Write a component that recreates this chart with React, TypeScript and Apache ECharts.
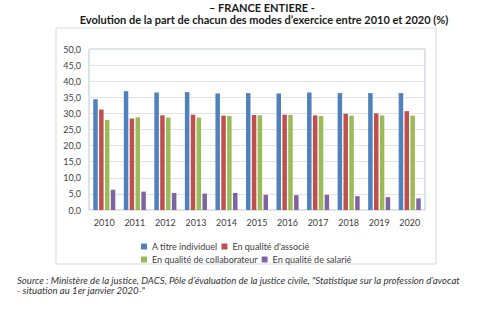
import React, { useEffect, useRef } from "react";
import * as echarts from "echarts";

const years = ["2010", "2011", "2012", "2013", "2014", "2015", "2016", "2017", "2018", "2019", "2020"];
const individuel = [34.4, 36.9, 36.5, 36.6, 36.2, 36.3, 36.2, 36.5, 36.3, 36.3, 36.3];
const associe = [31.2, 28.4, 29.4, 29.6, 29.3, 29.5, 29.6, 29.4, 29.9, 30.0, 30.7];
const collaborateur = [28.0, 28.8, 28.7, 28.7, 29.2, 29.4, 29.5, 29.2, 29.3, 29.4, 29.3];
const salarie = [6.3, 5.7, 5.3, 5.1, 5.3, 4.7, 4.6, 4.7, 4.3, 4.0, 3.6];
const seriesNames = ["A titre individuel", "En qualité d'associé", "En qualité de collaborateur", "En qualité de salarié"];
const colors = ["#4F81BD", "#C0504D", "#9BBB59", "#8064A2"];

const titleLine1 = "– FRANCE ENTIERE -";
const titleLine2 = "Evolution de la part de chacun des modes d’exercice entre 2010 et 2020 (%)";
const source1 = "Source : Ministère de la justice, DACS, Pôle d’évaluation de la justice civile, \"Statistique sur la profession d’avocat";
const source2 = "- situation au 1er janvier 2020-\"";

export default function App() {
  const ref = useRef<HTMLDivElement>(null);
  useEffect(() => {
    if (!ref.current) return;
    const chart = echarts.init(ref.current, null, { renderer: "svg" });
    const font = "Lato, 'Liberation Sans', sans-serif";
    const values = [individuel, associe, collaborateur, salarie];
    chart.setOption({
      animation: false,
      backgroundColor: "#ffffff",
      textStyle: { fontFamily: font },
      graphic: [
        {
          type: "rect",
          shape: { x: 56, y: 28, width: 380, height: 236 },
          style: { fill: "none", stroke: "#D9D9D9", lineWidth: 1 },
          z: -1,
        },
        {
          type: "text",
          x: 262,
          y: 7,
          style: { text: titleLine1, font: `bold 11px ${font}`, fill: "#1a1a1a", align: "center", verticalAlign: "middle" },
        },
        {
          type: "text",
          x: 264,
          y: 19,
          style: { text: titleLine2, font: `bold 11px ${font}`, fill: "#1a1a1a", align: "center", verticalAlign: "middle" },
        },
        {
          type: "text",
          x: 17,
          y: 275,
          style: {
            text: source1 + "\n" + source2,
            font: `italic 9.6px ${font}`,
            lineHeight: 10,
            fill: "#333333",
            align: "left",
            verticalAlign: "top",
          },
        },
      ],
      legend: {
        data: seriesNames,
        left: 136,
        top: 237,
        width: 232,
        itemWidth: 6,
        itemHeight: 6,
        itemGap: 4,
        icon: "rect",
        textStyle: { fontSize: 9, color: "#404040", width: 101, fontFamily: font },
      },
      grid: {
        left: 89,
        right: 75,
        top: 49,
        bottom: 111,
        show: true,
        borderColor: "#B4C6DC",
        borderWidth: 1,
      },
      xAxis: {
        type: "category",
        data: years,
        axisLine: { show: false },
        axisTick: { show: false },
        axisLabel: { fontSize: 9, color: "#404040", margin: 8 },
      },
      yAxis: {
        type: "value",
        min: 0,
        max: 50,
        interval: 5,
        axisLine: { show: false },
        axisTick: { show: false },
        axisLabel: {
          fontSize: 9,
          color: "#404040",
          margin: 8,
          formatter: (v: number) => v.toFixed(1).replace(".", ","),
        },
        splitLine: { lineStyle: { color: "#E3E3E3", width: 1 } },
      },
      series: seriesNames.map((name, i) => ({
        name,
        type: "bar",
        data: values[i],
        barWidth: 4.5,
        barGap: "30%",
        barCategoryGap: "28%",
        itemStyle: { color: colors[i] },
      })),
    });
    return () => chart.dispose();
  }, []);
  return (
    <div
      ref={ref}
      style={{ position: "absolute", left: 0, top: 0, width: 500, height: 321, background: "#fff" }}
    />
  );
}
